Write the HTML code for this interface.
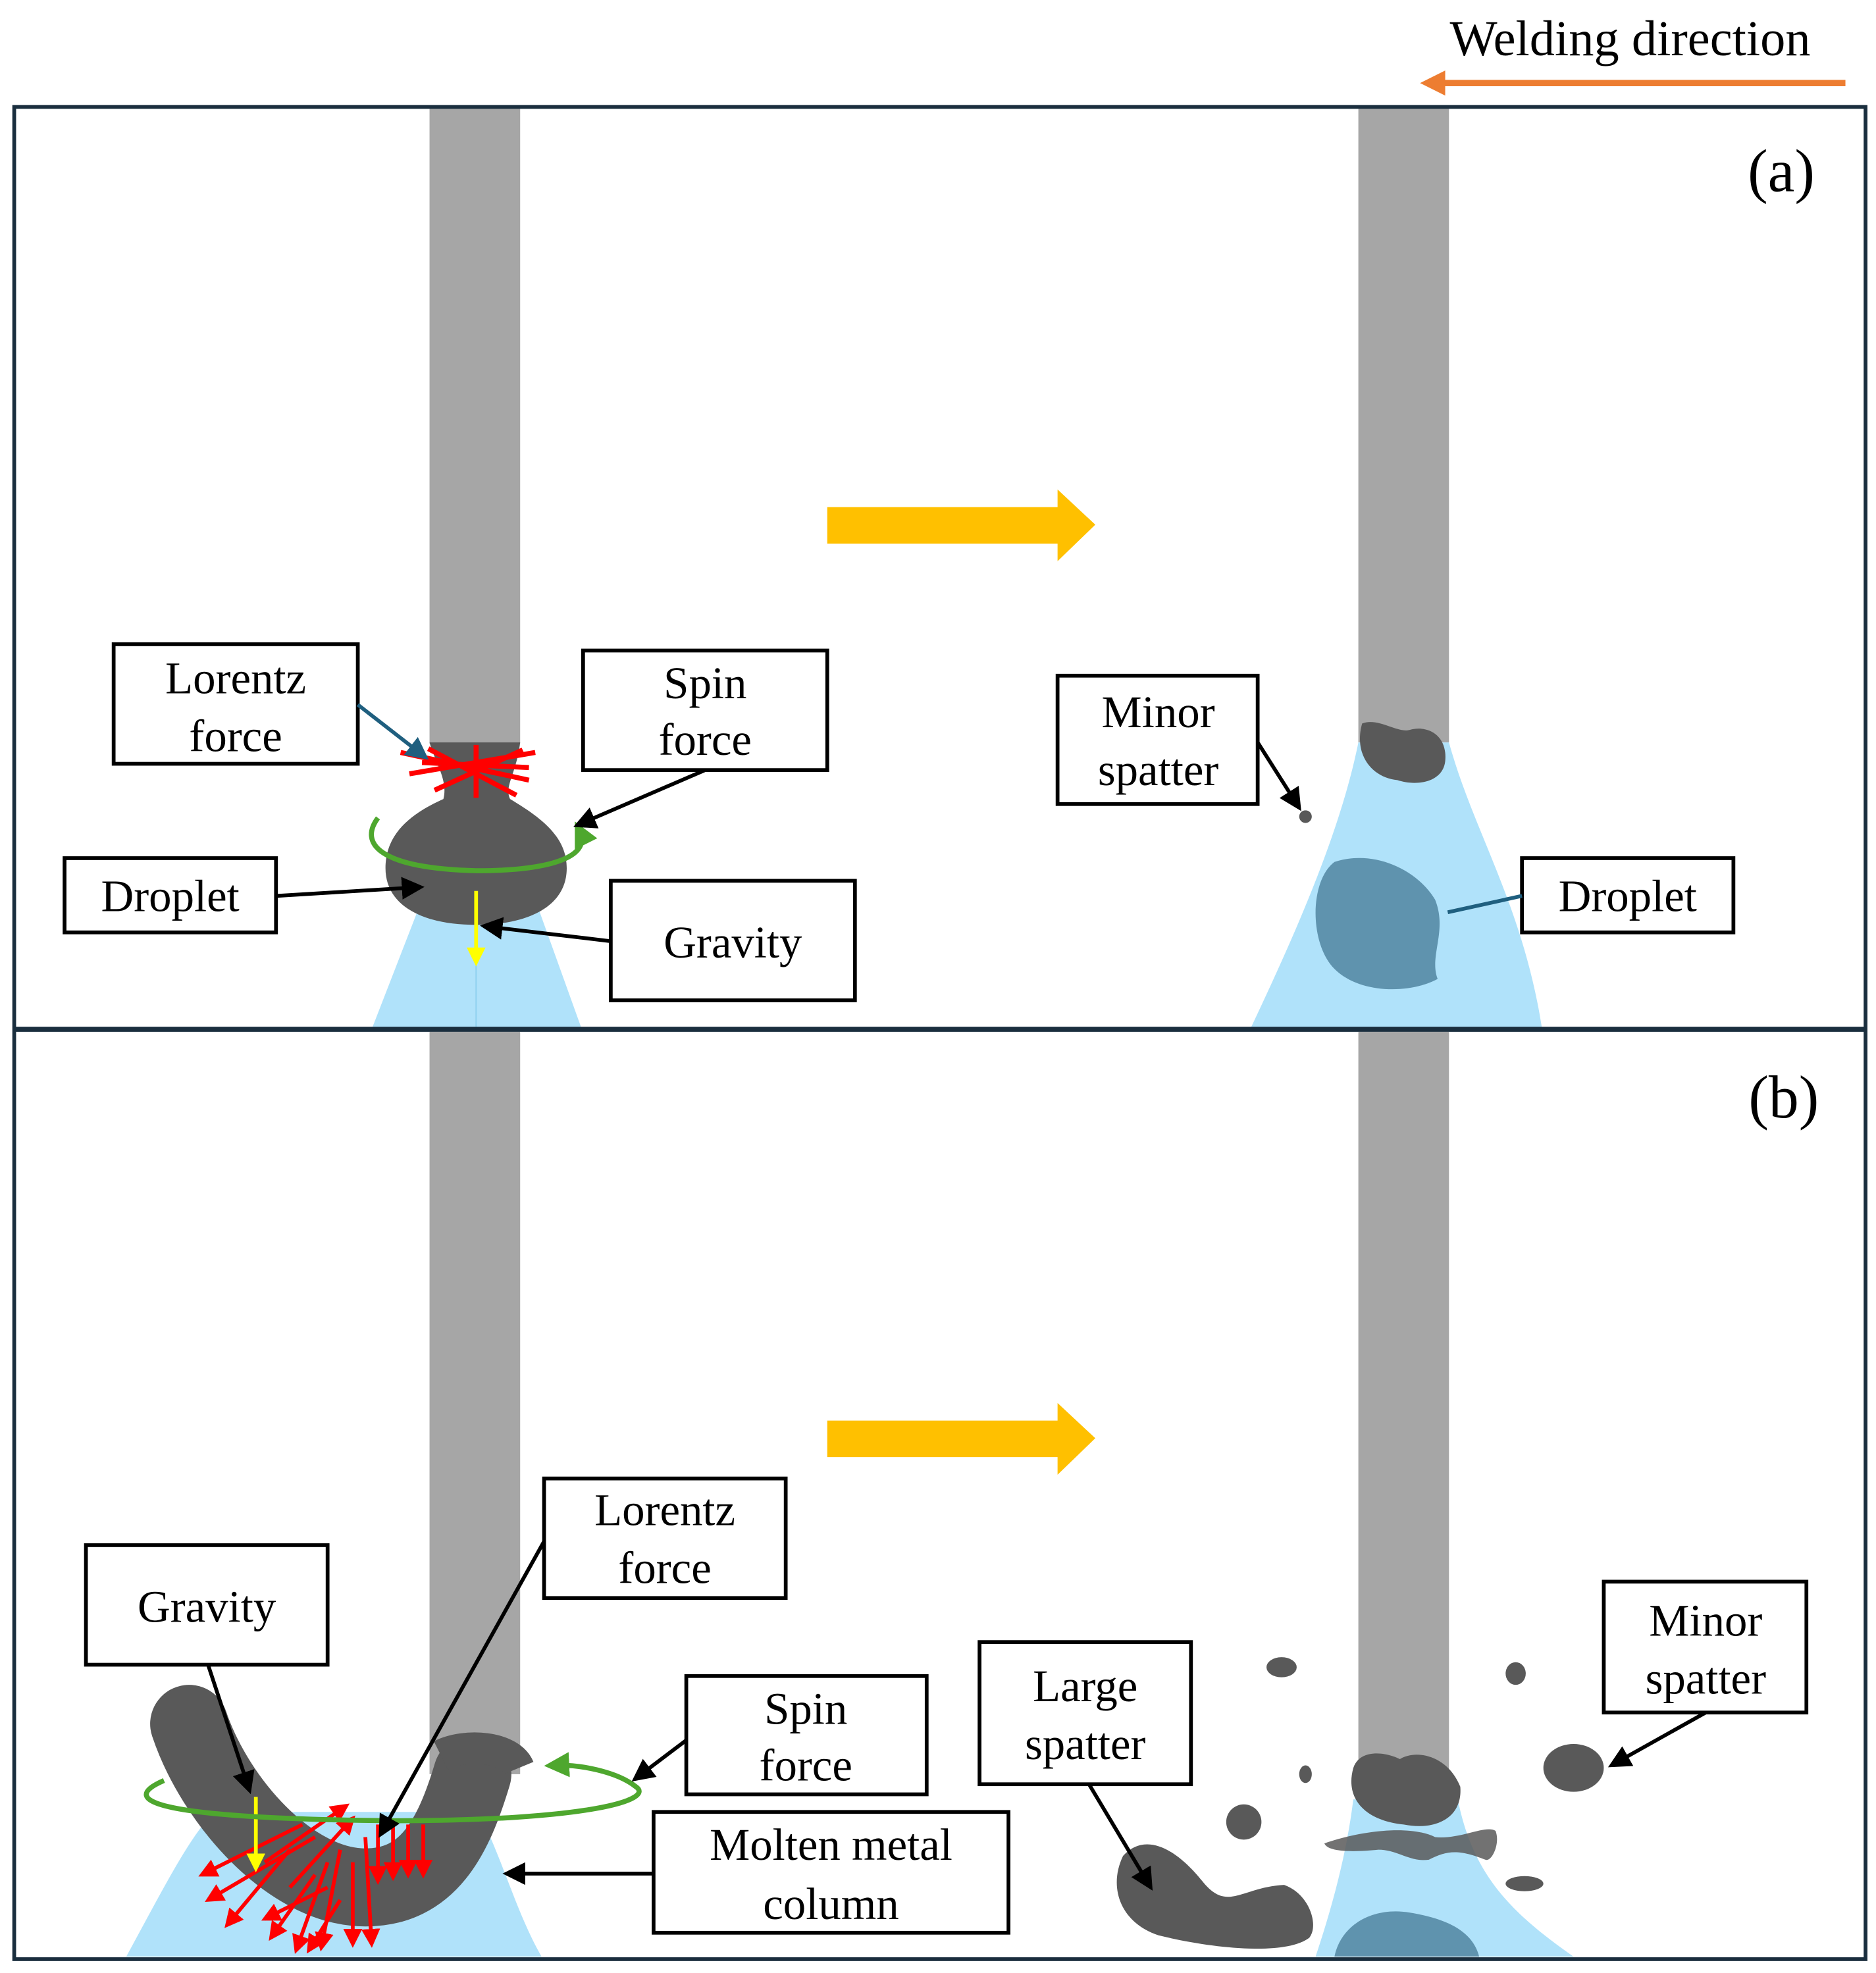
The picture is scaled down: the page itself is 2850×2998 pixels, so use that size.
<!DOCTYPE html>
<html><head><style>body{margin:0;background:#fff}svg{display:block}text{font-family:"Liberation Serif",serif;fill:#000}</style></head><body>
<svg width="2850" height="2998" viewBox="0 0 1490 1568" xmlns="http://www.w3.org/2000/svg">
<defs>
<marker id="ah" markerWidth="6" markerHeight="6" refX="5" refY="3" orient="auto" markerUnits="strokeWidth"><path d="M0,0 L6,3 L0,6 Z" fill="#000"/></marker>
<marker id="ahb" markerWidth="6" markerHeight="6" refX="5" refY="3" orient="auto" markerUnits="strokeWidth"><path d="M0,0 L6,3 L0,6 Z" fill="#1f5f7f"/></marker>
<marker id="ahr" markerWidth="5" markerHeight="5" refX="4" refY="2.5" orient="auto" markerUnits="strokeWidth"><path d="M0,0 L5,2.5 L0,5 Z" fill="#ff0000"/></marker>
<marker id="ahy" markerWidth="5" markerHeight="5" refX="4" refY="2.5" orient="auto" markerUnits="strokeWidth"><path d="M0,0 L5,2.5 L0,5 Z" fill="#ffff00"/></marker>
<marker id="ahg" markerWidth="5" markerHeight="5" refX="3" refY="2.5" orient="auto" markerUnits="strokeWidth"><path d="M0,0 L5,2.5 L0,5 Z" fill="#4ea72e"/></marker>
</defs>
<rect width="1490" height="1568" fill="#fff"/>
<text x="1295" y="44" font-size="40" text-anchor="middle">Welding direction</text>
<line x1="1466" y1="66" x2="1140" y2="66" stroke="#ed7d31" stroke-width="5"/>
<path d="M1128,66 L1148,56 L1148,76 Z" fill="#ed7d31"/>

<!-- (a) -->
<path d="M295,818 L335,715 L425,715 L462,818 Z" fill="#b0e2fa"/>
<line x1="378" y1="720" x2="378" y2="818" stroke="#8fd0ef" stroke-width="1"/>
<rect x="341" y="85" width="72" height="506" fill="#a6a6a6"/>
<path d="M341,590 L413,590 C410,615 400,625 405,635 C430,650 450,665 450,690 C450,720 420,735 378,735 C336,735 306,720 306,690 C306,660 330,645 352,635 C356,620 345,605 341,590 Z" fill="#595959"/>
<g stroke="#ff0000" stroke-width="4">
<line x1="318" y1="598" x2="420" y2="620"/><line x1="325" y1="615" x2="425" y2="598"/><line x1="340" y1="595" x2="410" y2="632"/><line x1="345" y1="628" x2="415" y2="596"/><line x1="378" y1="592" x2="378" y2="634"/><line x1="335" y1="606" x2="420" y2="610"/>
</g>
<path d="M300,650 C285,670 300,690 378,692 C440,692 470,680 460,660" fill="none" stroke="#4ea72e" stroke-width="4" marker-end="url(#ahg)"/>
<line x1="378" y1="708" x2="378" y2="765" stroke="#ffff00" stroke-width="3" marker-end="url(#ahy)"/>
<rect x="90" y="512" width="194" height="95" fill="#fff" stroke="#000" stroke-width="3"/>
<text x="187" y="551" font-size="36" text-anchor="middle">Lorentz</text><text x="187" y="597" font-size="36" text-anchor="middle">force</text>
<rect x="463" y="517" width="194" height="95" fill="#fff" stroke="#000" stroke-width="3"/>
<text x="560" y="555" font-size="36" text-anchor="middle">Spin</text><text x="560" y="600" font-size="36" text-anchor="middle">force</text>
<rect x="51" y="682" width="168" height="59" fill="#fff" stroke="#000" stroke-width="3"/>
<text x="135" y="724" font-size="36" text-anchor="middle">Droplet</text>
<rect x="485" y="700" width="194" height="95" fill="#fff" stroke="#000" stroke-width="3"/>
<text x="582" y="761" font-size="36" text-anchor="middle">Gravity</text>
<line x1="284" y1="560" x2="338" y2="602" stroke="#1f5f7f" stroke-width="3" marker-end="url(#ahb)"/>
<line x1="560" y1="612" x2="458" y2="656" stroke="#000" stroke-width="3" marker-end="url(#ah)"/>
<line x1="219" y1="712" x2="334" y2="705" stroke="#000" stroke-width="3" marker-end="url(#ah)"/>
<line x1="485" y1="748" x2="384" y2="736" stroke="#000" stroke-width="3" marker-end="url(#ah)"/>

<path d="M657,403 L840,403 L840,389 L870,417 L840,446 L840,432 L657,432 Z" fill="#ffc000"/>
<text x="1415" y="152" font-size="48" text-anchor="middle">(a)</text>

<path d="M1079,590 L1151,590 C1170,660 1210,720 1225,818 L993,818 C1030,740 1065,660 1079,590 Z" fill="#b0e2fa"/>
<rect x="1079" y="85" width="72" height="505" fill="#a6a6a6"/>
<path d="M1082,575 C1095,570 1110,583 1120,580 C1135,576 1150,585 1148,605 C1146,622 1125,625 1110,620 C1090,618 1075,600 1082,575 Z" fill="#595959"/>
<path d="M1060,685 C1090,675 1125,690 1140,715 C1150,740 1135,760 1142,778 C1120,790 1080,790 1060,770 C1040,750 1040,700 1060,685 Z" fill="#5f93ae"/>
<rect x="840" y="537" width="159" height="102" fill="#fff" stroke="#000" stroke-width="3"/>
<text x="920" y="578" font-size="36" text-anchor="middle">Minor</text><text x="920" y="624" font-size="36" text-anchor="middle">spatter</text>
<line x1="999" y1="590" x2="1032" y2="642" stroke="#000" stroke-width="3" marker-end="url(#ah)"/>
<circle cx="1037" cy="649" r="5" fill="#595959"/>
<rect x="1209" y="682" width="168" height="59" fill="#fff" stroke="#000" stroke-width="3"/>
<text x="1293" y="724" font-size="36" text-anchor="middle">Droplet</text>
<line x1="1209" y1="712" x2="1150" y2="725" stroke="#1f5f7f" stroke-width="3"/>

<!-- (b) -->
<path d="M100,1555 C130,1500 150,1460 170,1440 L380,1440 C400,1480 410,1520 430,1555 Z" fill="#b0e2fa"/>
<rect x="341" y="820" width="72" height="590" fill="#a6a6a6"/>
<path d="M150,1370 C170,1430 230,1500 290,1500 C340,1500 360,1460 375,1410" fill="none" stroke="#595959" stroke-width="62" stroke-linecap="round"/>
<path d="M350,1395 C370,1385 405,1388 412,1405" fill="none" stroke="#595959" stroke-width="25"/>
<g stroke="#ff0000" stroke-width="3">
<line x1="240" y1="1450" x2="160" y2="1490" marker-end="url(#ahr)"/><line x1="250" y1="1460" x2="165" y2="1510" marker-end="url(#ahr)"/>
<line x1="230" y1="1470" x2="180" y2="1530" marker-end="url(#ahr)"/><line x1="210" y1="1480" x2="275" y2="1435" marker-end="url(#ahr)"/>
<line x1="250" y1="1490" x2="215" y2="1540" marker-end="url(#ahr)"/><line x1="260" y1="1480" x2="235" y2="1550" marker-end="url(#ahr)"/>
<line x1="270" y1="1470" x2="255" y2="1548" marker-end="url(#ahr)"/><line x1="280" y1="1480" x2="280" y2="1545" marker-end="url(#ahr)"/>
<line x1="290" y1="1460" x2="295" y2="1545" marker-end="url(#ahr)"/><line x1="300" y1="1450" x2="300" y2="1495" marker-end="url(#ahr)"/>
<line x1="312" y1="1450" x2="312" y2="1492" marker-end="url(#ahr)"/><line x1="324" y1="1450" x2="324" y2="1490" marker-end="url(#ahr)"/>
<line x1="336" y1="1450" x2="336" y2="1490" marker-end="url(#ahr)"/><line x1="230" y1="1500" x2="280" y2="1445" marker-end="url(#ahr)"/>
<line x1="260" y1="1500" x2="210" y2="1525" marker-end="url(#ahr)"/><line x1="270" y1="1510" x2="245" y2="1550" marker-end="url(#ahr)"/>
</g>
<line x1="203" y1="1428" x2="203" y2="1485" stroke="#ffff00" stroke-width="3" marker-end="url(#ahy)"/>
<path d="M130,1415 C95,1430 115,1445 310,1447 C470,1447 520,1430 505,1420 C490,1408 460,1402 440,1403" fill="none" stroke="#4ea72e" stroke-width="4" marker-end="url(#ahg)"/>
<rect x="68" y="1228" width="192" height="95" fill="#fff" stroke="#000" stroke-width="3"/>
<text x="164" y="1289" font-size="36" text-anchor="middle">Gravity</text>
<rect x="432" y="1175" width="192" height="95" fill="#fff" stroke="#000" stroke-width="3"/>
<text x="528" y="1212" font-size="36" text-anchor="middle">Lorentz</text><text x="528" y="1258" font-size="36" text-anchor="middle">force</text>
<rect x="545" y="1332" width="191" height="94" fill="#fff" stroke="#000" stroke-width="3"/>
<text x="640" y="1370" font-size="36" text-anchor="middle">Spin</text><text x="640" y="1415" font-size="36" text-anchor="middle">force</text>
<rect x="519" y="1440" width="282" height="96" fill="#fff" stroke="#000" stroke-width="3"/>
<text x="660" y="1478" font-size="36" text-anchor="middle">Molten metal</text><text x="660" y="1525" font-size="36" text-anchor="middle">column</text>
<line x1="165" y1="1323" x2="198" y2="1423" stroke="#000" stroke-width="3" marker-end="url(#ah)"/>
<line x1="432" y1="1225" x2="302" y2="1458" stroke="#000" stroke-width="3" marker-end="url(#ah)"/>
<line x1="545" y1="1383" x2="504" y2="1414" stroke="#000" stroke-width="3" marker-end="url(#ah)"/>
<line x1="519" y1="1489" x2="402" y2="1489" stroke="#000" stroke-width="3" marker-end="url(#ah)"/>

<path d="M657,1129 L840,1129 L840,1115 L870,1143 L840,1172 L840,1158 L657,1158 Z" fill="#ffc000"/>
<text x="1417" y="888" font-size="48" text-anchor="middle">(b)</text>

<path d="M1075,1430 L1158,1430 C1170,1490 1200,1520 1250,1555 L1045,1555 C1060,1510 1070,1470 1075,1430 Z" fill="#b0e2fa"/>
<rect x="1079" y="820" width="72" height="590" fill="#a6a6a6"/>
<path d="M1075,1405 C1080,1390 1100,1392 1112,1398 C1125,1390 1150,1395 1160,1420 C1162,1445 1140,1455 1115,1450 C1085,1447 1068,1430 1075,1405 Z" fill="#595959"/>
<path d="M1052,1465 C1080,1455 1120,1450 1140,1460 C1160,1462 1180,1450 1188,1455 C1192,1465 1185,1480 1180,1478 C1160,1470 1150,1470 1135,1478 C1120,1480 1110,1470 1095,1470 C1075,1472 1055,1472 1052,1465 Z" fill="#595959" opacity="0.85"/>
<path d="M1060,1555 C1065,1530 1090,1515 1120,1520 C1150,1525 1170,1535 1175,1555 Z" fill="#5f93ae"/>
<path d="M892,1475 C910,1455 935,1470 955,1495 C975,1520 985,1500 1020,1498 C1040,1505 1048,1530 1040,1540 C1020,1555 960,1548 920,1538 C890,1528 880,1500 892,1475 Z" fill="#595959"/>
<ellipse cx="1018" cy="1325" rx="12" ry="8" fill="#595959"/>
<ellipse cx="1204" cy="1330" rx="8" ry="9" fill="#595959"/>
<ellipse cx="1037" cy="1410" rx="5" ry="7" fill="#595959"/>
<circle cx="988" cy="1448" r="14" fill="#595959"/>
<ellipse cx="1250" cy="1405" rx="24" ry="19" fill="#595959"/>
<ellipse cx="1211" cy="1497" rx="15" ry="6" fill="#595959"/>
<rect x="778" y="1305" width="168" height="113" fill="#fff" stroke="#000" stroke-width="3"/>
<text x="862" y="1352" font-size="36" text-anchor="middle">Large</text><text x="862" y="1398" font-size="36" text-anchor="middle">spatter</text>
<rect x="1274" y="1257" width="161" height="104" fill="#fff" stroke="#000" stroke-width="3"/>
<text x="1355" y="1300" font-size="36" text-anchor="middle">Minor</text><text x="1355" y="1346" font-size="36" text-anchor="middle">spatter</text>
<line x1="865" y1="1418" x2="914" y2="1500" stroke="#000" stroke-width="3" marker-end="url(#ah)"/>
<line x1="1355" y1="1361" x2="1280" y2="1403" stroke="#000" stroke-width="3" marker-end="url(#ah)"/>

<rect x="11" y="85" width="1471" height="1472" fill="none" stroke="#1a2e3e" stroke-width="3"/>
<line x1="11" y1="818" x2="1482" y2="818" stroke="#1a2e3e" stroke-width="4"/>
</svg>
</body></html>
